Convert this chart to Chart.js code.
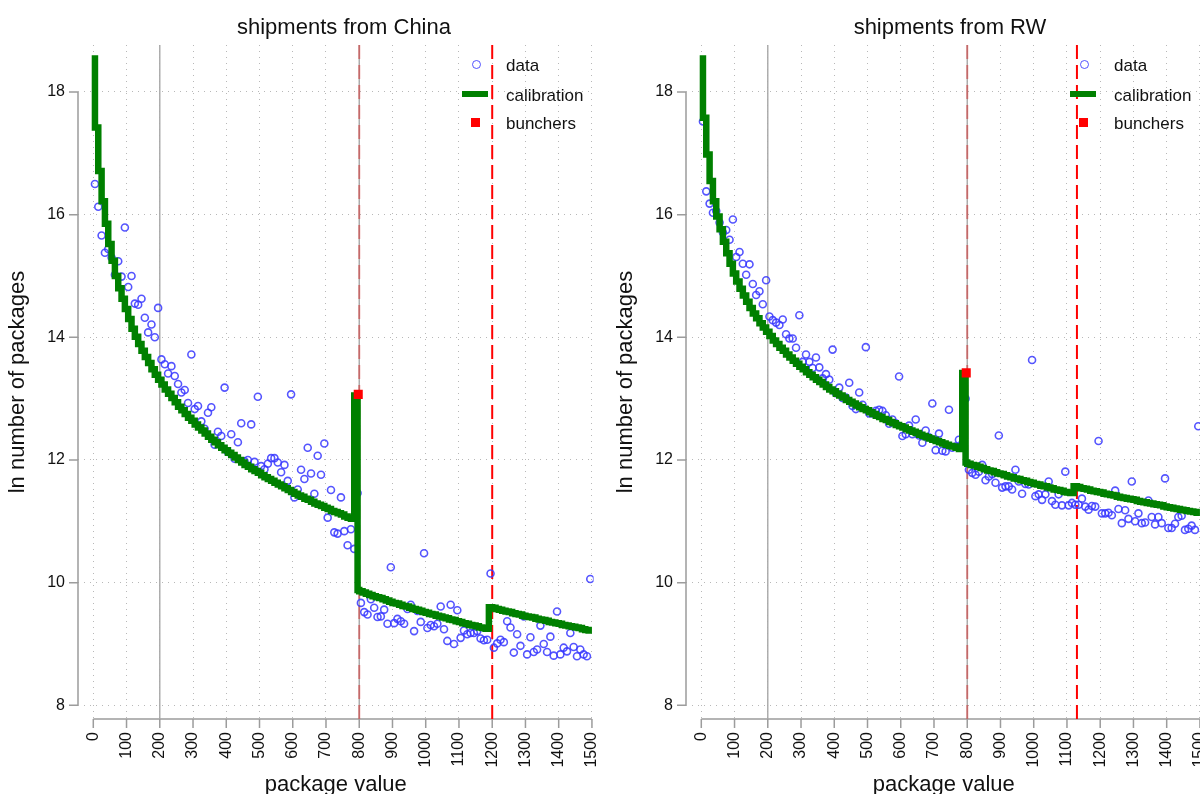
<!DOCTYPE html>
<html>
<head>
<meta charset="utf-8">
<script src="https://cdn.jsdelivr.net/npm/chart.js@4.4.1/dist/chart.umd.min.js"></script>
<style>
  html, body { margin: 0; padding: 0; overflow: hidden; background: #fff; }
  body { position: relative; width: 1200px; height: 794px; font-family: 'Liberation Sans', Arial, Helvetica, sans-serif; }
  .panel { position: absolute; top: 0; width: 600px; height: 794px; }
  .title { position: absolute; top: 16px; width: 400px; text-align: center; font-size: 22px; line-height: 1; color: #111; }
  .lg-text { position: absolute; font-size: 17px; line-height: 1; color: #111; white-space: nowrap; }
  .lg-mark { position: absolute; box-sizing: border-box; }
</style>
</head>
<body>
<div class="panel" style="left:0"><canvas id="chartChina"></canvas></div>
<div class="panel" style="left:608px"><canvas id="chartRW"></canvas></div>
<div class="title" style="left:144px">shipments from China</div>
<div class="title" style="left:750px">shipments from RW</div>
<div id="legends"></div>

<script>
// ---- data -------------------------------------------------------------
const xTicks = [0, 100, 200, 300, 400, 500, 600, 700, 800, 900, 1000, 1100, 1200, 1300, 1400, 1500];
const yTicks = [8, 10, 12, 14, 16, 18];

// bin centres of package value
const binX = [
  5, 15, 25, 35, 45, 55, 65, 75, 85, 95,
  105, 115, 125, 135, 145, 155, 165, 175, 185, 195,
  205, 215, 225, 235, 245, 255, 265, 275, 285, 295,
  305, 315, 325, 335, 345, 355, 365, 375, 385, 395,
  405, 415, 425, 435, 445, 455, 465, 475, 485, 495,
  505, 515, 525, 535, 545, 555, 565, 575, 585, 595,
  605, 615, 625, 635, 645, 655, 665, 675, 685, 695,
  705, 715, 725, 735, 745, 755, 765, 775, 785, 795,
  805, 815, 825, 835, 845, 855, 865, 875, 885, 895,
  905, 915, 925, 935, 945, 955, 965, 975, 985, 995,
  1005, 1015, 1025, 1035, 1045, 1055, 1065, 1075, 1085, 1095,
  1105, 1115, 1125, 1135, 1145, 1155, 1165, 1175, 1185, 1195,
  1205, 1215, 1225, 1235, 1245, 1255, 1265, 1275, 1285, 1295,
  1305, 1315, 1325, 1335, 1345, 1355, 1365, 1375, 1385, 1395,
  1405, 1415, 1425, 1435, 1445, 1455, 1465, 1475, 1485, 1495
];

// observed ln number of packages, China
const dataChina = [
  16.50, 16.13, 15.66, 15.38, 15.44, 15.30, 15.02, 15.24, 14.99, 15.79,
  14.82, 15.00, 14.55, 14.53, 14.63, 14.32, 14.08, 14.21, 14.00, 14.48,
  13.64, 13.56, 13.41, 13.53, 13.37, 13.24, 13.10, 13.14, 12.93, 13.72,
  12.83, 12.88, 12.63, 12.51, 12.77, 12.86, 12.25, 12.46, 12.39, 13.18,
  12.13, 12.42, 12.02, 12.29, 12.60, 11.98, 12.00, 12.58, 11.97, 13.03,
  11.90, 11.85, 11.94, 12.03, 12.03, 11.96, 11.80, 11.92, 11.66, 13.07,
  11.39, 11.52, 11.84, 11.69, 12.20, 11.78, 11.45, 12.07, 11.76, 12.27,
  11.06, 11.51, 10.82, 10.80, 11.39, 10.84, 10.61, 10.87, 10.55, 11.46,
  9.67, 9.52, 9.48, 9.73, 9.59, 9.44, 9.45, 9.56, 9.33, 10.25,
  9.34, 9.41, 9.37, 9.33, 9.57, 9.64, 9.21, 9.54, 9.36, 10.48,
  9.26, 9.31, 9.29, 9.33, 9.61, 9.24, 9.05, 9.64, 9.00, 9.55,
  9.10, 9.22, 9.16, 9.18, 9.18, 9.21, 9.09, 9.06, 9.07, 10.15,
  8.94, 9.01, 9.07, 9.03, 9.37, 9.27, 8.86, 9.16, 8.97, 9.45,
  8.83, 9.11, 8.87, 8.91, 9.30, 9.00, 8.87, 9.12, 8.81, 9.53,
  8.83, 8.94, 8.88, 9.18, 8.95, 8.80, 8.91, 8.83, 8.80, 10.06
];

// observed ln number of packages, rest of world
const dataRW = [
  17.52, 16.38, 16.18, 16.03, 16.06, 15.87, 15.71, 15.75, 15.59, 15.92,
  15.31, 15.39, 15.20, 15.02, 15.19, 14.87, 14.69, 14.75, 14.54, 14.93,
  14.34, 14.28, 14.24, 14.20, 14.29, 14.05, 13.98, 13.98, 13.83, 14.36,
  13.60, 13.72, 13.60, 13.50, 13.67, 13.51, 13.33, 13.40, 13.31, 13.80,
  13.09, 13.18, 13.01, 13.02, 13.26, 12.88, 12.83, 13.10, 12.90, 13.84,
  12.76, 12.76, 12.80, 12.82, 12.80, 12.73, 12.59, 12.66, 12.60, 13.36,
  12.39, 12.42, 12.56, 12.42, 12.66, 12.40, 12.28, 12.48, 12.37, 12.92,
  12.16, 12.43, 12.15, 12.14, 12.82, 12.20, 12.22, 12.33, 12.27, 13.00,
  11.84, 11.79, 11.76, 11.81, 11.92, 11.67, 11.73, 11.77, 11.63, 12.40,
  11.55, 11.57, 11.57, 11.52, 11.84, 11.65, 11.45, 11.61, 11.60, 13.63,
  11.41, 11.44, 11.35, 11.44, 11.65, 11.33, 11.27, 11.44, 11.26, 11.81,
  11.26, 11.30, 11.27, 11.27, 11.37, 11.24, 11.19, 11.25, 11.24, 12.31,
  11.13, 11.13, 11.14, 11.10, 11.50, 11.20, 10.97, 11.18, 11.04, 11.65,
  11.00, 11.13, 10.97, 10.98, 11.34, 11.07, 10.95, 11.07, 10.97, 11.70,
  10.89, 10.89, 10.96, 11.07, 11.09, 10.86, 10.88, 10.93, 10.86, 12.55
];

// calibration (stair step), China
const calChinaX = binX.slice(0, 80).concat([
  800, 810, 820, 830, 840, 850, 860, 870, 880, 890,
  900, 910, 920, 930, 940, 950, 960, 970, 980, 990,
  1000, 1010, 1020, 1030, 1040, 1050, 1060, 1070, 1080, 1090,
  1100, 1110, 1120, 1130, 1140, 1150, 1160, 1170, 1180, 1190,
  1200, 1210, 1220, 1230, 1240, 1250, 1260, 1270, 1280, 1290,
  1300, 1310, 1320, 1330, 1340, 1350, 1360, 1370, 1380, 1390,
  1400, 1410, 1420, 1430, 1440, 1450, 1460, 1470, 1480, 1490, 1500
]);
const calChinaY = [
  18.60, 17.42, 16.71, 16.22, 15.85, 15.52, 15.25, 15.00, 14.80, 14.63,
  14.46, 14.30, 14.14, 14.01, 13.89, 13.78, 13.68, 13.58, 13.48, 13.39,
  13.31, 13.23, 13.15, 13.08, 13.01, 12.94, 12.87, 12.81, 12.75, 12.69,
  12.64, 12.58, 12.53, 12.48, 12.43, 12.38, 12.33, 12.29, 12.24, 12.20,
  12.16, 12.12, 12.08, 12.04, 12.00, 11.96, 11.92, 11.89, 11.85, 11.82,
  11.79, 11.75, 11.72, 11.69, 11.66, 11.63, 11.60, 11.57, 11.54, 11.51,
  11.48, 11.45, 11.42, 11.40, 11.37, 11.35, 11.32, 11.29, 11.27, 11.25,
  11.22, 11.20, 11.17, 11.15, 11.13, 11.11, 11.08, 11.06, 11.04, 13.05,
  9.88, 9.86, 9.84, 9.82, 9.80, 9.78, 9.76, 9.75, 9.73, 9.71,
  9.69, 9.67, 9.66, 9.64, 9.62, 9.61, 9.59, 9.57, 9.56, 9.54,
  9.52, 9.51, 9.49, 9.48, 9.46, 9.45, 9.43, 9.42, 9.40, 9.39,
  9.37, 9.36, 9.34, 9.33, 9.31, 9.30, 9.29, 9.27, 9.26, 9.25,
  9.60, 9.59, 9.57, 9.56, 9.54, 9.53, 9.52, 9.50, 9.49, 9.48,
  9.46, 9.45, 9.44, 9.43, 9.41, 9.40, 9.39, 9.38, 9.36, 9.35,
  9.34, 9.33, 9.31, 9.30, 9.29, 9.28, 9.27, 9.26, 9.24, 9.23, 9.22
];

// calibration (stair step), rest of world
const calRWX = binX.slice(0, 80).concat([
  800, 810, 820, 830, 840, 850, 860, 870, 880, 890,
  900, 910, 920, 930, 940, 950, 960, 970, 980, 990,
  1000, 1010, 1020, 1030, 1040, 1050, 1060, 1070, 1080, 1090,
  1100, 1110, 1120,
  1130, 1140, 1150, 1160, 1170, 1180, 1190, 1200, 1210, 1220,
  1230, 1240, 1250, 1260, 1270, 1280, 1290, 1300, 1310, 1320,
  1330, 1340, 1350, 1360, 1370, 1380, 1390, 1400, 1410, 1420,
  1430, 1440, 1450, 1460, 1470, 1480, 1490, 1500
]);
const calRWY = [
  18.60, 17.58, 16.98, 16.55, 16.22, 15.97, 15.76, 15.56, 15.37, 15.20,
  15.04, 14.91, 14.79, 14.68, 14.58, 14.48, 14.39, 14.31, 14.23, 14.16,
  14.09, 14.02, 13.95, 13.89, 13.83, 13.78, 13.72, 13.67, 13.62, 13.57,
  13.52, 13.48, 13.43, 13.39, 13.35, 13.31, 13.27, 13.23, 13.19, 13.15,
  13.12, 13.08, 13.05, 13.02, 12.98, 12.95, 12.92, 12.89, 12.86, 12.83,
  12.81, 12.78, 12.75, 12.72, 12.70, 12.67, 12.65, 12.62, 12.60, 12.57,
  12.55, 12.53, 12.50, 12.48, 12.46, 12.44, 12.41, 12.39, 12.37, 12.35,
  12.33, 12.31, 12.29, 12.27, 12.25, 12.23, 12.22, 12.20, 12.18, 13.42,
  11.96, 11.94, 11.92, 11.91, 11.89, 11.87, 11.85, 11.83, 11.82, 11.80,
  11.78, 11.77, 11.75, 11.73, 11.72, 11.70, 11.69, 11.67, 11.66, 11.64,
  11.63, 11.61, 11.60, 11.58, 11.57, 11.55, 11.54, 11.52, 11.51, 11.50,
  11.48, 11.47, 11.46,
  11.57, 11.56, 11.54, 11.53, 11.52, 11.50, 11.49, 11.48, 11.47, 11.45,
  11.44, 11.43, 11.42, 11.40, 11.39, 11.38, 11.37, 11.36, 11.35, 11.33,
  11.32, 11.31, 11.30, 11.29, 11.28, 11.27, 11.26, 11.24, 11.23, 11.22,
  11.21, 11.20, 11.19, 11.18, 11.17, 11.16, 11.15, 11.14
];

// bunching points
const bunchChina = { x: 797, y: 13.07 };
const bunchRW = { x: 797, y: 13.42 };

// reference lines
const greyLinesX = [200, 800];
const dashChinaX = [800, 1200];
const dashRWX = [800, 1130];

// ---- setup ------------------------------------------------------------
const FONT = "'Liberation Sans', Arial, Helvetica, sans-serif";
const X_MIN = -46, X_MAX = 1505;
const Y_MIN = 7.777, Y_MAX = 18.766;

const BLUE = 'rgba(55,55,255,0.85)';
const GREEN = '#008000';
const RED = '#ff0000';
const AXIS_GREY = '#9c9c9c';

// axis lines and tick marks spanning only the labelled range
const stataAxes = {
    id: 'stataAxes',
    beforeDatasetsDraw(chart) {
        const { ctx, chartArea, scales: { x, y } } = chart;
        const b = chartArea.bottom, l = chartArea.left;
        ctx.save();
        ctx.strokeStyle = AXIS_GREY;
        ctx.lineWidth = 1.5;
        ctx.beginPath();
        ctx.moveTo(x.getPixelForValue(xTicks[0]), b);
        ctx.lineTo(x.getPixelForValue(xTicks[xTicks.length - 1]), b);
        xTicks.forEach(v => {
            const p = x.getPixelForValue(v);
            ctx.moveTo(p, b);
            ctx.lineTo(p, b + 9);
        });
        ctx.moveTo(l, y.getPixelForValue(yTicks[0]));
        ctx.lineTo(l, y.getPixelForValue(yTicks[yTicks.length - 1]));
        yTicks.forEach(v => {
            const p = y.getPixelForValue(v);
            ctx.moveTo(l, p);
            ctx.lineTo(l - 9, p);
        });
        ctx.stroke();
        ctx.restore();
    }
};

function vLine(xv, color, width, dash, order) {
    return {
        type: 'line',
        data: [{ x: xv, y: Y_MIN }, { x: xv, y: Y_MAX }],
        borderColor: color,
        borderWidth: width,
        borderDash: dash,
        pointRadius: 0,
        showLine: true,
        fill: false,
        order: order
    };
}

function createPanel(canvasId, dataY, calX, calY, bunch, dashX) {
    const ctx = document.getElementById(canvasId).getContext('2d');

    const datasets = [];
    greyLinesX.forEach(v => datasets.push(vLine(v, '#a8a8a8', 1.4, [], 11)));
    dashX.forEach(v => datasets.push(
        vLine(v, v === 800 ? 'rgba(215,40,40,0.5)' : RED, 2, [14, 6], 10)
    ));

    datasets.push({
        label: 'data',
        type: 'scatter',
        data: binX.map((x, i) => ({ x: x, y: dataY[i] })),
        borderColor: BLUE,
        backgroundColor: 'rgba(0,0,0,0)',
        pointRadius: 3.5,
        pointBorderWidth: 1.6,
        order: 3
    });
    datasets.push({
        label: 'calibration',
        type: 'line',
        data: calX.map((x, i) => ({ x: x, y: calY[i] })),
        borderColor: GREEN,
        borderWidth: 6.5,
        stepped: 'after',
        pointRadius: 0,
        fill: false,
        order: 2
    });
    datasets.push({
        label: 'bunchers',
        type: 'scatter',
        data: [bunch],
        pointStyle: 'rect',
        pointRadius: 6.4,
        backgroundColor: RED,
        borderColor: RED,
        borderWidth: 0,
        order: 1
    });

    return new Chart(ctx, {
        type: 'scatter',
        data: { datasets: datasets },
        plugins: [stataAxes],
        options: {
            responsive: true,
            maintainAspectRatio: false,
            animation: false,
            layout: { padding: { top: 45, right: 2, left: 0, bottom: 0 } },
            plugins: {
                legend: { display: false },
                title: { display: false },
                tooltip: { enabled: false }
            },
            scales: {
                x: {
                    type: 'linear',
                    min: X_MIN,
                    max: X_MAX,
                    afterBuildTicks: s => { s.ticks = xTicks.map(v => ({ value: v })); },
                    afterFit: s => { s.height = 75; s.paddingLeft = 0; s.paddingRight = 0; },
                    grid: { color: '#b8b8b8', lineWidth: 1, drawTicks: true, tickLength: 9, tickColor: 'rgba(0,0,0,0)' },
                    border: { display: false, dash: [1, 5] },
                    ticks: {
                        autoSkip: false,
                        minRotation: 90,
                        maxRotation: 90,
                        padding: 4,
                        color: '#111',
                        font: { family: FONT, size: 16 },
                        callback: v => String(v)
                    },
                    title: {
                        display: true,
                        text: 'package value',
                        color: '#111',
                        font: { family: FONT, size: 22, lineHeight: 0.8 },
                        padding: 0
                    }
                },
                y: {
                    type: 'linear',
                    min: Y_MIN,
                    max: Y_MAX,
                    afterBuildTicks: s => { s.ticks = yTicks.map(v => ({ value: v })); },
                    afterFit: s => { s.width = 78; s.paddingTop = 0; s.paddingBottom = 0; },
                    grid: { color: '#b8b8b8', lineWidth: 1, drawTicks: true, tickLength: 9, tickColor: 'rgba(0,0,0,0)' },
                    border: { display: false, dash: [1, 5] },
                    ticks: {
                        padding: 4,
                        color: '#111',
                        font: { family: FONT, size: 16 },
                        callback: v => String(v)
                    },
                    title: {
                        display: true,
                        text: 'ln number of packages',
                        color: '#111',
                        font: { family: FONT, size: 22 },
                        padding: { top: 5, bottom: 0 }
                    }
                }
            }
        }
    });
}

// legend inside the top right of each panel
function addLegend(offsetX) {
    const box = document.getElementById('legends');
    const items = [
        { text: 'data', top: 57, mark: `left:${471.5 + offsetX}px;top:60px;width:9px;height:9px;border:1.6px solid ${BLUE};border-radius:50%;` },
        { text: 'calibration', top: 87, mark: `left:${462 + offsetX}px;top:90.5px;width:26px;height:6px;background:${GREEN};` },
        { text: 'bunchers', top: 115, mark: `left:${471 + offsetX}px;top:117.5px;width:9px;height:9px;background:${RED};` }
    ];
    items.forEach(it => {
        const m = document.createElement('div');
        m.className = 'lg-mark';
        m.style.cssText = it.mark;
        box.appendChild(m);
        const t = document.createElement('div');
        t.className = 'lg-text';
        t.style.left = (506 + offsetX) + 'px';
        t.style.top = it.top + 'px';
        t.textContent = it.text;
        box.appendChild(t);
    });
}

createPanel('chartChina', dataChina, calChinaX, calChinaY, bunchChina, dashChinaX);
createPanel('chartRW', dataRW, calRWX, calRWY, bunchRW, dashRWX);
addLegend(0);
addLegend(608);
</script>
</body>
</html>
